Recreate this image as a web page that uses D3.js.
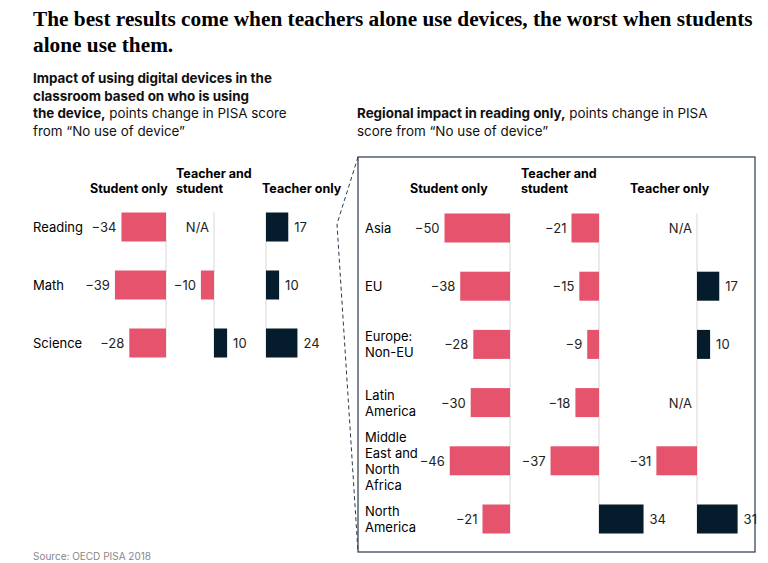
<!DOCTYPE html>
<html><head><meta charset="utf-8">
<script src="https://cdn.jsdelivr.net/npm/d3@7"></script>
<style>body{margin:0;background:#fff}</style></head>
<body><svg id="c" width="768" height="563"></svg>
<script>
const subjects=["Reading","Math","Science"];
const groups=["Student only","Teacher and student","Teacher only"];
const leftStudent=[-34,-39,-28];
const leftBoth=[null,-10,10];
const leftTeacher=[17,10,24];
const regions=[["Asia"],["EU"],["Europe:","Non-EU"],["Latin","America"],["Middle","East and","North","Africa"],["North","America"]];
const rStudent=[-50,-38,-28,-30,-46,-21];
const rBoth=[-21,-15,-9,-18,-37,34];
const rTeacher=[null,17,10,null,-31,31];

const svg=d3.select("#c");
const F="Inter, 'Noto Sans', Arial, sans-serif";
const pink="#e5546c", navy="#051c2c";
const k=1.31;
const lin=d3.scaleLinear().domain([0,1]).range([0,k]);

svg.append("text").attr("x",33).attr("y",26).attr("font-family","'Liberation Serif','DejaVu Serif',serif").attr("font-weight","bold").attr("font-size",21.3)
 .selectAll("tspan").data(["The best results come when teachers alone use devices, the worst when students","alone use them."]).join("tspan").attr("x",33).attr("dy",(d,i)=>i?26:0).text(d=>d);

function para(x,y,lines){
  const t=svg.append("text").attr("x",x).attr("y",y).attr("font-family",F).attr("font-size",13.4).attr("fill","#111");
  lines.forEach((l,i)=>{const ts=t.append("tspan").attr("x",x).attr("dy",i?17.5:0);
    l.forEach(s=>ts.append("tspan").attr("font-weight",s[1]?"bold":"normal").text(s[0]));});
}
para(33,83,[[["Impact of using digital devices in the",1]],[["classroom based on who is using",1]],[["the device,",1],[" points change in PISA score",0]],[["from “No use of device”",0]]]);
para(357,118,[[["Regional impact in reading only,",1],[" points change in PISA",0]],[["score from “No use of device”",0]]]);

function header(x,lines){
  svg.append("text").attr("font-family",F).attr("font-weight","bold").attr("font-size",12.5)
   .selectAll("tspan").data(lines).join("tspan").attr("x",x).attr("y",(d,i)=>193-(lines.length-1-i)*15).text(d=>d);
}
header(90,["Student only"]);header(176,["Teacher and","student"]);header(262,["Teacher only"]);
header(410,["Student only"]);header(521,["Teacher and","student"]);header(630,["Teacher only"]);

function column(x0,vals,ys,bh){
  const top=ys(0)-bh/2, bot=ys(vals.length-1)+bh/2;
  svg.append("line").attr("x1",x0).attr("x2",x0).attr("y1",top).attr("y2",bot).attr("stroke","#ddd").attr("stroke-width",1.2);
  vals.forEach((v,i)=>{
    const y=ys(i);
    if(v===null){svg.append("text").attr("x",x0-5).attr("y",y+5).attr("text-anchor","end").attr("font-family",F).attr("font-size",13).attr("fill","#222").text("N/A");return;}
    const w=lin(Math.abs(v));
    svg.append("rect").attr("x",v<0?x0-w:x0).attr("y",y-bh/2).attr("width",w).attr("height",bh).attr("fill",v<0?pink:navy);
    svg.append("text").attr("x",v<0?x0-w-5:x0+w+6).attr("y",y+5).attr("text-anchor",v<0?"end":"start")
      .attr("font-family",F).attr("font-size",13).attr("fill","#222").text(v<0?"−"+Math.abs(v):v);
  });
}
const yL=d3.scalePoint().domain(d3.range(3)).range([227,343]);
const yR=d3.scalePoint().domain(d3.range(6)).range([228,519]);
subjects.forEach((s,i)=>svg.append("text").attr("x",33).attr("y",yL(i)+5).attr("font-family",F).attr("font-size",13).text(s));
column(166,leftStudent,yL,29);column(214,leftBoth,yL,29);column(266,leftTeacher,yL,29);

svg.append("rect").attr("x",358).attr("y",157).attr("width",397).attr("height",395).attr("fill","none").attr("stroke","#2a3a4a").attr("stroke-width",1.2);
svg.append("path").attr("d","M358,157 L337,224 L358,552").attr("fill","none").attr("stroke","#2a3a4a").attr("stroke-dasharray","4,3");
regions.forEach((r,i)=>{
  svg.append("text").attr("font-family",F).attr("font-size",13).selectAll("tspan").data(r).join("tspan")
   .attr("x",365).attr("y",(d,j)=>yR(i)+5+(j-(r.length-1)/2)*16).text(d=>d);
});
column(510,rStudent,yR,29);column(599,rBoth,yR,29);column(697,rTeacher,yR,29);
svg.append("text").attr("x",33).attr("y",560).attr("font-family",F).attr("font-size",10).attr("fill","#888").text("Source: OECD PISA 2018");
</script></body></html>
